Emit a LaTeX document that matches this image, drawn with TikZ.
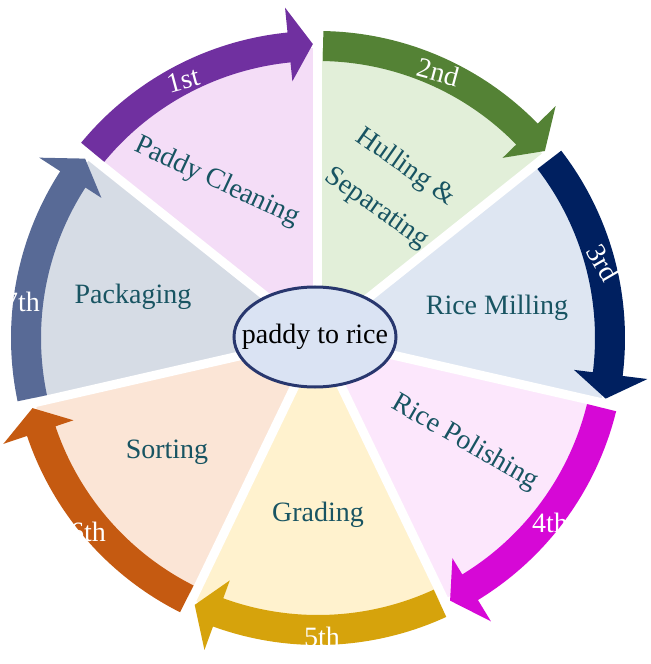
\documentclass[tikz,border=0pt]{standalone}
\usepackage{fontspec}
\setmainfont{Liberation Serif}
\usetikzlibrary{shapes.geometric}

\definecolor{fillA}{RGB}{244,221,247}
\definecolor{fillB}{RGB}{226,239,217}
\definecolor{fillC}{RGB}{222,230,242}
\definecolor{fillD}{RGB}{252,231,252}
\definecolor{fillE}{RGB}{255,242,206}
\definecolor{fillF}{RGB}{251,229,214}
\definecolor{fillG}{RGB}{214,220,229}
\definecolor{arrA}{RGB}{112,48,160}
\definecolor{arrB}{RGB}{84,130,53}
\definecolor{arrC}{RGB}{0,32,96}
\definecolor{arrD}{RGB}{214,8,214}
\definecolor{arrE}{RGB}{214,163,12}
\definecolor{arrF}{RGB}{197,90,17}
\definecolor{arrG}{RGB}{88,106,150}
\definecolor{stagetext}{RGB}{24,84,98}
\definecolor{ellfill}{RGB}{218,227,243}
\definecolor{ellborder}{RGB}{40,55,110}

\begin{document}
\begin{tikzpicture}[x=0.5pt,y=0.5pt,
    stage/.style={text=stagetext,font=\fontsize{14}{17}\selectfont},
    order/.style={text=white,font=\fontsize{14}{17}\selectfont},
    gap/.style={white,line width=4.5pt}]
    \useasboundingbox (-318,-326) rectangle (332,338);
    % segments
    \fill[fillA] (0,0) -- (141.43:290) arc[start angle=141.43,end angle=90,radius=290] -- cycle;
    \fill[fillB] (0,0) -- (90:290) arc[start angle=90,end angle=38.57,radius=290] -- cycle;
    \fill[fillC] (0,0) -- (38.57:290) arc[start angle=38.57,end angle=-12.86,radius=290] -- cycle;
    \fill[fillD] (0,0) -- (-12.86:290) arc[start angle=-12.86,end angle=-64.29,radius=290] -- cycle;
    \fill[fillE] (0,0) -- (-64.29:290) arc[start angle=-64.29,end angle=-115.71,radius=290] -- cycle;
    \fill[fillF] (0,0) -- (-115.71:290) arc[start angle=-115.71,end angle=-167.14,radius=290] -- cycle;
    \fill[fillG] (0,0) -- (192.86:290) arc[start angle=192.86,end angle=141.43,radius=290] -- cycle;
    \draw[gap] (0,0) -- (141.43:300);
    \draw[gap] (0,0) -- (90:300);
    \draw[gap] (0,0) -- (38.57:300);
    \draw[gap] (0,0) -- (-12.86:300);
    \draw[gap] (0,0) -- (-64.29:300);
    \draw[gap] (0,0) -- (-115.71:300);
    \draw[gap] (0,0) -- (-167.14:300);
    % arrows
    \fill[arrA] (140.5:307) arc[start angle=140.5,end angle=95.7,radius=307] -- (95.7:332) -- (91:294)
        -- (95.7:258) -- (95.7:277) arc[start angle=95.7,end angle=140.5,radius=277] -- cycle;
    \fill[arrB] (89:307) arc[start angle=89,end angle=44.3,radius=307] -- (44.3:332) -- (39.5:294)
        -- (44.3:258) -- (44.3:277) arc[start angle=44.3,end angle=89,radius=277] -- cycle;
    \fill[arrC] (37.6:307) arc[start angle=37.6,end angle=-7.1,radius=307] -- (-7.1:332) -- (-11.9:294)
        -- (-7.1:258) -- (-7.1:277) arc[start angle=-7.1,end angle=37.6,radius=277] -- cycle;
    \fill[arrD] (-13.8:307) arc[start angle=-13.8,end angle=-58.6,radius=307] -- (-58.6:332) -- (-63.3:294)
        -- (-58.6:258) -- (-58.6:277) arc[start angle=-58.6,end angle=-13.8,radius=277] -- cycle;
    \fill[arrE] (-65.3:307) arc[start angle=-65.3,end angle=-110,radius=307] -- (-110:332) -- (-114.8:294)
        -- (-110:258) -- (-110:277) arc[start angle=-110,end angle=-65.3,radius=277] -- cycle;
    \fill[arrF] (-116.7:307) arc[start angle=-116.7,end angle=-161.4,radius=307] -- (-161.4:332) -- (-166.2:294)
        -- (-161.4:258) -- (-161.4:277) arc[start angle=-161.4,end angle=-116.7,radius=277] -- cycle;
    \fill[arrG] (191.9:307) arc[start angle=191.9,end angle=147.1,radius=307] -- (147.1:332) -- (142.4:294)
        -- (147.1:258) -- (147.1:277) arc[start angle=147.1,end angle=191.9,radius=277] -- cycle;
    % centre
    \node[ellipse,draw=ellborder,line width=1.5pt,fill=ellfill,minimum width=81pt,minimum height=50pt,
        inner xsep=-14pt,inner ysep=0pt,font=\fontsize{14}{17}\selectfont] (core) at (-3,1) {paddy to rice};
    % stages
    \node[stage,rotate=-25] (cleaning) at (-101,156) {Paddy Cleaning};
    \node[stage,rotate=-35,align=center] (hulling) at (73,150) {Hulling \&\\[8pt]Separating};
    \node[stage] (milling) at (179,30) {Rice Milling};
    \node[stage,rotate=-30] (polishing) at (147,-105) {Rice Polishing};
    \node[stage] (grading) at (0,-177) {Grading};
    \node[stage] (sorting) at (-151,-114) {Sorting};
    \node[stage] (packaging) at (-185,41) {Packaging};
    % order labels
    \node[order,rotate=15] (first) at (-135,258) {1st};
    \node[order,rotate=-15] (second) at (120,266) {2nd};
    \node[order,rotate=-60] (third) at (285,75) {3rd};
    \node[order] (fourth) at (232,-185) {4th};
    \node[order] (fifth) at (4,-299) {5th};
    \node[order] (sixth) at (-230,-194) {6th};
    \node[order] (seventh) at (-296,36) {7th};
\end{tikzpicture}
\end{document}
